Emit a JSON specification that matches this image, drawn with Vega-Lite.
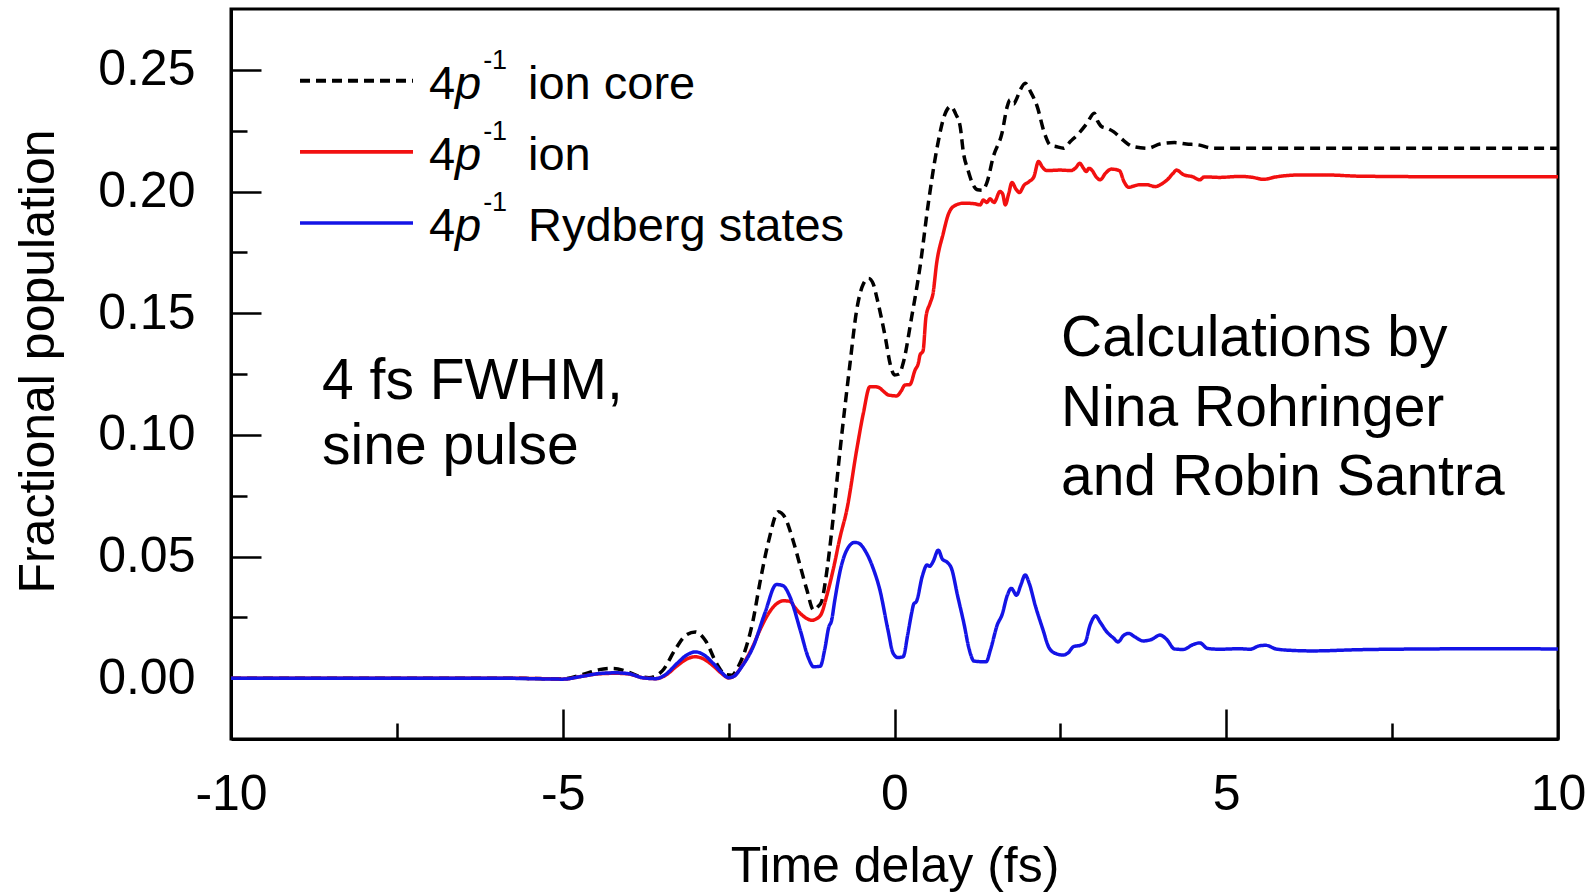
{
  "$schema": "https://vega.github.io/schema/vega-lite/v6.json",
  "autosize": {"type": "none"},
  "width": 1327,
  "height": 730,
  "padding": {"left": 231, "top": 9, "right": 34, "bottom": 153},
  "background": "white",
  "config": {
    "font": "Liberation Sans",
    "view": {"stroke": "black", "strokeWidth": 3},
    "axis": {
      "grid": false,
      "domainColor": "black",
      "domainWidth": 3,
      "tickColor": "black",
      "tickWidth": 2.5,
      "labelFont": "Liberation Sans",
      "labelFontSize": 50,
      "labelColor": "black",
      "titleFont": "Liberation Sans",
      "titleFontSize": 50,
      "titleFontWeight": "normal",
      "titleColor": "black"
    }
  },
  "datasets": {
    "curves": [
      {"t": -10, "v": 0, "s": "core"}, {"t": -8, "v": 0, "s": "core"}, {"t": -6, "v": 0, "s": "core"},
      {"t": -5.3, "v": -0.0002, "s": "core"}, {"t": -5.0, "v": -0.0003, "s": "core"}, {"t": -4.7, "v": 0.0015, "s": "core"},
      {"t": -4.45, "v": 0.0035, "s": "core"}, {"t": -4.24, "v": 0.004, "s": "core"}, {"t": -4.04, "v": 0.0028, "s": "core"},
      {"t": -3.85, "v": 0.0008, "s": "core"}, {"t": -3.7, "v": 0.0002, "s": "core"}, {"t": -3.5, "v": 0.003, "s": "core"},
      {"t": -3.3, "v": 0.012, "s": "core"}, {"t": -3.15, "v": 0.0175, "s": "core"}, {"t": -3.0, "v": 0.019, "s": "core"},
      {"t": -2.85, "v": 0.0155, "s": "core"}, {"t": -2.68, "v": 0.006, "s": "core"}, {"t": -2.55, "v": 0.0015, "s": "core"},
      {"t": -2.45, "v": 0.0012, "s": "core"}, {"t": -2.35, "v": 0.005, "s": "core"}, {"t": -2.25, "v": 0.0115, "s": "core"},
      {"t": -2.13, "v": 0.024, "s": "core"}, {"t": -2.03, "v": 0.039, "s": "core"}, {"t": -1.9, "v": 0.056, "s": "core"},
      {"t": -1.75, "v": 0.0684, "s": "core"}, {"t": -1.65, "v": 0.066, "s": "core"}, {"t": -1.53, "v": 0.0567, "s": "core"},
      {"t": -1.42, "v": 0.046, "s": "core"}, {"t": -1.32, "v": 0.0362, "s": "core"}, {"t": -1.22, "v": 0.028, "s": "core"},
      {"t": -1.15, "v": 0.0295, "s": "core"}, {"t": -1.1, "v": 0.0314, "s": "core"}, {"t": -1.03, "v": 0.042, "s": "core"},
      {"t": -0.95, "v": 0.0595, "s": "core"}, {"t": -0.82, "v": 0.0938, "s": "core"}, {"t": -0.67, "v": 0.1294, "s": "core"},
      {"t": -0.57, "v": 0.1513, "s": "core"}, {"t": -0.47, "v": 0.162, "s": "core"}, {"t": -0.39, "v": 0.1643, "s": "core"},
      {"t": -0.32, "v": 0.162, "s": "core"}, {"t": -0.27, "v": 0.1568, "s": "core"}, {"t": -0.14, "v": 0.1403, "s": "core"},
      {"t": -0.06, "v": 0.1285, "s": "core"}, {"t": 0.0, "v": 0.1246, "s": "core"}, {"t": 0.07, "v": 0.125, "s": "core"},
      {"t": 0.13, "v": 0.1294, "s": "core"}, {"t": 0.26, "v": 0.1486, "s": "core"}, {"t": 0.385, "v": 0.1691, "s": "core"},
      {"t": 0.51, "v": 0.1952, "s": "core"}, {"t": 0.635, "v": 0.217, "s": "core"}, {"t": 0.75, "v": 0.231, "s": "core"},
      {"t": 0.85, "v": 0.235, "s": "core"}, {"t": 0.92, "v": 0.232, "s": "core"}, {"t": 0.99, "v": 0.2267, "s": "core"},
      {"t": 1.04, "v": 0.2157, "s": "core"}, {"t": 1.106, "v": 0.209, "s": "core"}, {"t": 1.18, "v": 0.203, "s": "core"},
      {"t": 1.25, "v": 0.2007, "s": "core"}, {"t": 1.32, "v": 0.2005, "s": "core"}, {"t": 1.39, "v": 0.2034, "s": "core"},
      {"t": 1.49, "v": 0.2144, "s": "core"}, {"t": 1.62, "v": 0.224, "s": "core"}, {"t": 1.7, "v": 0.235, "s": "core"},
      {"t": 1.74, "v": 0.2377, "s": "core"}, {"t": 1.8, "v": 0.236, "s": "core"}, {"t": 1.83, "v": 0.2375, "s": "core"},
      {"t": 1.9, "v": 0.242, "s": "core"}, {"t": 1.97, "v": 0.2445, "s": "core"}, {"t": 2.05, "v": 0.241, "s": "core"},
      {"t": 2.15, "v": 0.235, "s": "core"}, {"t": 2.26, "v": 0.224, "s": "core"}, {"t": 2.35, "v": 0.219, "s": "core"},
      {"t": 2.43, "v": 0.2185, "s": "core"}, {"t": 2.55, "v": 0.2178, "s": "core"}, {"t": 2.65, "v": 0.2205, "s": "core"},
      {"t": 2.78, "v": 0.224, "s": "core"}, {"t": 2.9, "v": 0.228, "s": "core"}, {"t": 3.01, "v": 0.2322, "s": "core"},
      {"t": 3.06, "v": 0.229, "s": "core"}, {"t": 3.12, "v": 0.2267, "s": "core"}, {"t": 3.2, "v": 0.226, "s": "core"},
      {"t": 3.3, "v": 0.2246, "s": "core"}, {"t": 3.45, "v": 0.221, "s": "core"}, {"t": 3.59, "v": 0.2185, "s": "core"},
      {"t": 3.82, "v": 0.2178, "s": "core"}, {"t": 4.0, "v": 0.2195, "s": "core"}, {"t": 4.22, "v": 0.2201, "s": "core"},
      {"t": 4.4, "v": 0.2195, "s": "core"}, {"t": 4.57, "v": 0.2192, "s": "core"}, {"t": 4.8, "v": 0.2178, "s": "core"},
      {"t": 6, "v": 0.2178, "s": "core"}, {"t": 8, "v": 0.2178, "s": "core"}, {"t": 10, "v": 0.2178, "s": "core"},

      {"t": -10, "v": 0, "s": "ion"}, {"t": -8, "v": 0, "s": "ion"}, {"t": -6, "v": 0, "s": "ion"},
      {"t": -5.3, "v": -0.0002, "s": "ion"}, {"t": -5.0, "v": -0.0004, "s": "ion"}, {"t": -4.7, "v": 0.0008, "s": "ion"},
      {"t": -4.45, "v": 0.0018, "s": "ion"}, {"t": -4.2, "v": 0.002, "s": "ion"}, {"t": -4.0, "v": 0.0017, "s": "ion"},
      {"t": -3.8, "v": 0.0002, "s": "ion"}, {"t": -3.6, "v": -0.0002, "s": "ion"}, {"t": -3.45, "v": 0.0012, "s": "ion"},
      {"t": -3.28, "v": 0.005, "s": "ion"}, {"t": -3.12, "v": 0.008, "s": "ion"}, {"t": -3.0, "v": 0.0088, "s": "ion"},
      {"t": -2.87, "v": 0.0078, "s": "ion"}, {"t": -2.73, "v": 0.005, "s": "ion"}, {"t": -2.6, "v": 0.0018, "s": "ion"},
      {"t": -2.5, "v": 0.0001, "s": "ion"}, {"t": -2.42, "v": 0.0008, "s": "ion"}, {"t": -2.3, "v": 0.005, "s": "ion"},
      {"t": -2.13, "v": 0.0134, "s": "ion"}, {"t": -2.03, "v": 0.0197, "s": "ion"}, {"t": -1.9, "v": 0.0265, "s": "ion"},
      {"t": -1.78, "v": 0.0305, "s": "ion"}, {"t": -1.68, "v": 0.0318, "s": "ion"}, {"t": -1.58, "v": 0.0316, "s": "ion"},
      {"t": -1.5, "v": 0.029, "s": "ion"}, {"t": -1.42, "v": 0.0266, "s": "ion"}, {"t": -1.32, "v": 0.0245, "s": "ion"},
      {"t": -1.25, "v": 0.0238, "s": "ion"}, {"t": -1.17, "v": 0.0245, "s": "ion"}, {"t": -1.1, "v": 0.0266, "s": "ion"},
      {"t": -1.02, "v": 0.034, "s": "ion"}, {"t": -0.92, "v": 0.0451, "s": "ion"}, {"t": -0.82, "v": 0.058, "s": "ion"},
      {"t": -0.72, "v": 0.069, "s": "ion"}, {"t": -0.57, "v": 0.0938, "s": "ion"}, {"t": -0.47, "v": 0.1088, "s": "ion"},
      {"t": -0.37, "v": 0.1198, "s": "ion"}, {"t": -0.3, "v": 0.1198, "s": "ion"}, {"t": -0.24, "v": 0.1195, "s": "ion"},
      {"t": -0.15, "v": 0.1175, "s": "ion"}, {"t": -0.094, "v": 0.1164, "s": "ion"}, {"t": 0.033, "v": 0.116, "s": "ion"},
      {"t": 0.1, "v": 0.118, "s": "ion"}, {"t": 0.158, "v": 0.1205, "s": "ion"}, {"t": 0.23, "v": 0.1206, "s": "ion"},
      {"t": 0.31, "v": 0.1266, "s": "ion"}, {"t": 0.36, "v": 0.1295, "s": "ion"}, {"t": 0.385, "v": 0.1328, "s": "ion"},
      {"t": 0.43, "v": 0.1345, "s": "ion"}, {"t": 0.475, "v": 0.1486, "s": "ion"}, {"t": 0.535, "v": 0.154, "s": "ion"},
      {"t": 0.58, "v": 0.158, "s": "ion"}, {"t": 0.635, "v": 0.1705, "s": "ion"}, {"t": 0.735, "v": 0.1828, "s": "ion"},
      {"t": 0.81, "v": 0.1905, "s": "ion"}, {"t": 0.886, "v": 0.1938, "s": "ion"}, {"t": 1.04, "v": 0.1952, "s": "ion"},
      {"t": 1.2, "v": 0.195, "s": "ion"}, {"t": 1.29, "v": 0.1945, "s": "ion"}, {"t": 1.34, "v": 0.1965, "s": "ion"},
      {"t": 1.39, "v": 0.1955, "s": "ion"}, {"t": 1.44, "v": 0.197, "s": "ion"}, {"t": 1.5, "v": 0.1955, "s": "ion"},
      {"t": 1.59, "v": 0.2, "s": "ion"}, {"t": 1.63, "v": 0.199, "s": "ion"}, {"t": 1.67, "v": 0.1945, "s": "ion"},
      {"t": 1.72, "v": 0.199, "s": "ion"}, {"t": 1.77, "v": 0.2037, "s": "ion"}, {"t": 1.83, "v": 0.201, "s": "ion"},
      {"t": 1.885, "v": 0.1996, "s": "ion"}, {"t": 1.95, "v": 0.2025, "s": "ion"}, {"t": 2.03, "v": 0.2041, "s": "ion"},
      {"t": 2.1, "v": 0.206, "s": "ion"}, {"t": 2.17, "v": 0.2123, "s": "ion"}, {"t": 2.23, "v": 0.21, "s": "ion"},
      {"t": 2.29, "v": 0.2086, "s": "ion"}, {"t": 2.5, "v": 0.2088, "s": "ion"}, {"t": 2.66, "v": 0.2086, "s": "ion"},
      {"t": 2.74, "v": 0.21, "s": "ion"}, {"t": 2.79, "v": 0.2116, "s": "ion"}, {"t": 2.85, "v": 0.2095, "s": "ion"},
      {"t": 2.89, "v": 0.2082, "s": "ion"}, {"t": 2.93, "v": 0.2095, "s": "ion"}, {"t": 2.98, "v": 0.2086, "s": "ion"},
      {"t": 3.04, "v": 0.206, "s": "ion"}, {"t": 3.1, "v": 0.2048, "s": "ion"}, {"t": 3.18, "v": 0.2075, "s": "ion"},
      {"t": 3.27, "v": 0.2092, "s": "ion"}, {"t": 3.39, "v": 0.2086, "s": "ion"}, {"t": 3.46, "v": 0.204, "s": "ion"},
      {"t": 3.53, "v": 0.2017, "s": "ion"}, {"t": 3.6, "v": 0.2022, "s": "ion"}, {"t": 3.7, "v": 0.2028, "s": "ion"},
      {"t": 3.8, "v": 0.2028, "s": "ion"}, {"t": 3.93, "v": 0.202, "s": "ion"}, {"t": 4.02, "v": 0.203, "s": "ion"},
      {"t": 4.11, "v": 0.2048, "s": "ion"}, {"t": 4.2, "v": 0.2075, "s": "ion"}, {"t": 4.25, "v": 0.2088, "s": "ion"},
      {"t": 4.35, "v": 0.207, "s": "ion"}, {"t": 4.5, "v": 0.206, "s": "ion"}, {"t": 4.6, "v": 0.2048, "s": "ion"},
      {"t": 4.67, "v": 0.206, "s": "ion"}, {"t": 4.9, "v": 0.2058, "s": "ion"}, {"t": 5.2, "v": 0.2062, "s": "ion"},
      {"t": 5.4, "v": 0.2058, "s": "ion"}, {"t": 5.56, "v": 0.205, "s": "ion"}, {"t": 5.75, "v": 0.206, "s": "ion"},
      {"t": 6.11, "v": 0.2068, "s": "ion"}, {"t": 6.5, "v": 0.2068, "s": "ion"}, {"t": 7.0, "v": 0.2063, "s": "ion"},
      {"t": 8, "v": 0.2061, "s": "ion"}, {"t": 10, "v": 0.2061, "s": "ion"},

      {"t": -10, "v": 0, "s": "ryd"}, {"t": -8, "v": 0, "s": "ryd"}, {"t": -6, "v": 0, "s": "ryd"},
      {"t": -5.3, "v": -0.0003, "s": "ryd"}, {"t": -5.0, "v": -0.0004, "s": "ryd"}, {"t": -4.7, "v": 0.0008, "s": "ryd"},
      {"t": -4.45, "v": 0.0019, "s": "ryd"}, {"t": -4.2, "v": 0.0022, "s": "ryd"}, {"t": -4.0, "v": 0.0018, "s": "ryd"},
      {"t": -3.8, "v": 0.0002, "s": "ryd"}, {"t": -3.6, "v": -0.0002, "s": "ryd"}, {"t": -3.45, "v": 0.0015, "s": "ryd"},
      {"t": -3.28, "v": 0.006, "s": "ryd"}, {"t": -3.12, "v": 0.0097, "s": "ryd"}, {"t": -3.0, "v": 0.0108, "s": "ryd"},
      {"t": -2.87, "v": 0.0095, "s": "ryd"}, {"t": -2.73, "v": 0.006, "s": "ryd"}, {"t": -2.6, "v": 0.0022, "s": "ryd"},
      {"t": -2.5, "v": 0.0002, "s": "ryd"}, {"t": -2.42, "v": 0.0008, "s": "ryd"}, {"t": -2.3, "v": 0.0048, "s": "ryd"},
      {"t": -2.13, "v": 0.0129, "s": "ryd"}, {"t": -1.95, "v": 0.027, "s": "ryd"}, {"t": -1.78, "v": 0.0385, "s": "ryd"},
      {"t": -1.68, "v": 0.038, "s": "ryd"}, {"t": -1.575, "v": 0.0334, "s": "ryd"}, {"t": -1.42, "v": 0.0197, "s": "ryd"},
      {"t": -1.3, "v": 0.0085, "s": "ryd"}, {"t": -1.22, "v": 0.0047, "s": "ryd"}, {"t": -1.12, "v": 0.0049, "s": "ryd"},
      {"t": -1.05, "v": 0.012, "s": "ryd"}, {"t": -0.99, "v": 0.021, "s": "ryd"}, {"t": -0.95, "v": 0.0235, "s": "ryd"},
      {"t": -0.9, "v": 0.032, "s": "ryd"}, {"t": -0.82, "v": 0.044, "s": "ryd"}, {"t": -0.72, "v": 0.0526, "s": "ryd"},
      {"t": -0.6, "v": 0.0558, "s": "ryd"}, {"t": -0.55, "v": 0.0556, "s": "ryd"}, {"t": -0.42, "v": 0.0513, "s": "ryd"},
      {"t": -0.32, "v": 0.045, "s": "ryd"}, {"t": -0.22, "v": 0.0362, "s": "ryd"}, {"t": -0.1, "v": 0.02, "s": "ryd"},
      {"t": -0.02, "v": 0.0102, "s": "ryd"}, {"t": 0.05, "v": 0.0085, "s": "ryd"}, {"t": 0.13, "v": 0.0088, "s": "ryd"},
      {"t": 0.2, "v": 0.018, "s": "ryd"}, {"t": 0.26, "v": 0.027, "s": "ryd"}, {"t": 0.29, "v": 0.0305, "s": "ryd"},
      {"t": 0.33, "v": 0.0315, "s": "ryd"}, {"t": 0.42, "v": 0.042, "s": "ryd"}, {"t": 0.49, "v": 0.0465, "s": "ryd"},
      {"t": 0.53, "v": 0.046, "s": "ryd"}, {"t": 0.58, "v": 0.0478, "s": "ryd"}, {"t": 0.66, "v": 0.0526, "s": "ryd"},
      {"t": 0.72, "v": 0.049, "s": "ryd"}, {"t": 0.8, "v": 0.0475, "s": "ryd"}, {"t": 0.86, "v": 0.045, "s": "ryd"},
      {"t": 0.95, "v": 0.034, "s": "ryd"}, {"t": 1.05, "v": 0.022, "s": "ryd"}, {"t": 1.12, "v": 0.0125, "s": "ryd"},
      {"t": 1.2, "v": 0.007, "s": "ryd"}, {"t": 1.38, "v": 0.0067, "s": "ryd"}, {"t": 1.45, "v": 0.012, "s": "ryd"},
      {"t": 1.55, "v": 0.022, "s": "ryd"}, {"t": 1.62, "v": 0.026, "s": "ryd"}, {"t": 1.7, "v": 0.034, "s": "ryd"},
      {"t": 1.76, "v": 0.0369, "s": "ryd"}, {"t": 1.84, "v": 0.0341, "s": "ryd"}, {"t": 1.9, "v": 0.038, "s": "ryd"},
      {"t": 1.97, "v": 0.0424, "s": "ryd"}, {"t": 2.03, "v": 0.039, "s": "ryd"}, {"t": 2.12, "v": 0.03, "s": "ryd"},
      {"t": 2.24, "v": 0.0197, "s": "ryd"}, {"t": 2.32, "v": 0.013, "s": "ryd"}, {"t": 2.4, "v": 0.0105, "s": "ryd"},
      {"t": 2.54, "v": 0.0095, "s": "ryd"}, {"t": 2.62, "v": 0.0105, "s": "ryd"}, {"t": 2.7, "v": 0.013, "s": "ryd"},
      {"t": 2.8, "v": 0.0135, "s": "ryd"}, {"t": 2.87, "v": 0.0145, "s": "ryd"}, {"t": 2.95, "v": 0.022, "s": "ryd"},
      {"t": 3.03, "v": 0.0256, "s": "ryd"}, {"t": 3.1, "v": 0.023, "s": "ryd"}, {"t": 3.2, "v": 0.019, "s": "ryd"},
      {"t": 3.3, "v": 0.0165, "s": "ryd"}, {"t": 3.37, "v": 0.0149, "s": "ryd"}, {"t": 3.45, "v": 0.0175, "s": "ryd"},
      {"t": 3.53, "v": 0.0184, "s": "ryd"}, {"t": 3.62, "v": 0.017, "s": "ryd"}, {"t": 3.75, "v": 0.0153, "s": "ryd"},
      {"t": 3.88, "v": 0.016, "s": "ryd"}, {"t": 4.0, "v": 0.0177, "s": "ryd"}, {"t": 4.1, "v": 0.016, "s": "ryd"},
      {"t": 4.22, "v": 0.012, "s": "ryd"}, {"t": 4.35, "v": 0.0118, "s": "ryd"}, {"t": 4.5, "v": 0.0138, "s": "ryd"},
      {"t": 4.6, "v": 0.0145, "s": "ryd"}, {"t": 4.72, "v": 0.0122, "s": "ryd"}, {"t": 4.9, "v": 0.0119, "s": "ryd"},
      {"t": 5.2, "v": 0.0121, "s": "ryd"}, {"t": 5.36, "v": 0.0119, "s": "ryd"}, {"t": 5.5, "v": 0.0133, "s": "ryd"},
      {"t": 5.6, "v": 0.0135, "s": "ryd"}, {"t": 5.75, "v": 0.012, "s": "ryd"}, {"t": 6.0, "v": 0.0114, "s": "ryd"},
      {"t": 6.3, "v": 0.0112, "s": "ryd"}, {"t": 7.0, "v": 0.0117, "s": "ryd"}, {"t": 8.0, "v": 0.012, "s": "ryd"},
      {"t": 9.0, "v": 0.0121, "s": "ryd"}, {"t": 10, "v": 0.012, "s": "ryd"}
    ],
    "legendLines": [
      {"t": -8.96, "v": 0.2455, "s": "core"}, {"t": -7.257, "v": 0.2455, "s": "core"},
      {"t": -8.96, "v": 0.2163, "s": "ion"}, {"t": -7.257, "v": 0.2163, "s": "ion"},
      {"t": -8.96, "v": 0.1871, "s": "ryd"}, {"t": -7.257, "v": 0.1871, "s": "ryd"}
    ]
  },
  "layer": [
    {
      "data": {"name": "curves"},
      "mark": {"type": "line", "strokeWidth": 3.5, "interpolate": "monotone"},
      "encoding": {
        "x": {
          "field": "t", "type": "quantitative",
          "scale": {"domain": [-10, 10], "nice": false, "zero": false},
          "axis": {
            "title": "Time delay (fs)",
            "values": [-10, -7.5, -5, -2.5, 0, 2.5, 5, 7.5, 10],
            "labelExpr": "datum.value % 5 === 0 ? '' + datum.value : ''",
            "tickSize": {"condition": {"test": "datum.value % 5 === 0", "value": -30}, "value": -16},
            "labelPadding": 60,
            "labelFlush": false,
            "titlePadding": 22
          }
        },
        "y": {
          "field": "v", "type": "quantitative",
          "scale": {"domain": [-0.025, 0.275], "nice": false, "zero": false},
          "axis": {
            "title": "Fractional population",
            "values": [0, 0.025, 0.05, 0.075, 0.1, 0.125, 0.15, 0.175, 0.2, 0.225, 0.25],
            "format": ".2f",
            "labelExpr": "abs(datum.value * 20 - round(datum.value * 20)) < 0.001 ? datum.label : ''",
            "tickSize": {"condition": {"test": "abs(datum.value * 20 - round(datum.value * 20)) < 0.001", "value": -30}, "value": -16},
            "labelPadding": 66,
            "labelFlush": false,
            "titlePadding": 34,
            "titleY": 352
          }
        },
        "color": {
          "field": "s", "type": "nominal",
          "scale": {"domain": ["core", "ion", "ryd"], "range": ["#000000", "#f21010", "#1414e6"]},
          "legend": null
        },
        "strokeDash": {
          "field": "s", "type": "nominal",
          "scale": {"domain": ["core", "ion", "ryd"], "range": [[10, 6], [1, 0], [1, 0]]},
          "legend": null
        },
        "strokeWidth": {
          "field": "s", "type": "nominal",
          "scale": {"domain": ["core", "ion", "ryd"], "range": [4, 3.5, 3.5]},
          "legend": null
        }
      }
    },
    {
      "data": {"name": "legendLines"},
      "mark": {"type": "line"},
      "encoding": {
        "x": {"field": "t", "type": "quantitative"},
        "y": {"field": "v", "type": "quantitative"},
        "color": {"field": "s", "type": "nominal", "legend": null},
        "strokeDash": {"field": "s", "type": "nominal", "legend": null},
        "strokeWidth": {"field": "s", "type": "nominal", "legend": null},
        "detail": {"field": "s"}
      }
    },
    {
      "data": {"values": [
        {"t": -7.016, "v": 0.2381, "txt": "4"},
        {"t": -7.016, "v": 0.2089, "txt": "4"},
        {"t": -7.016, "v": 0.1797, "txt": "4"}
      ]},
      "mark": {"type": "text", "align": "left", "baseline": "alphabetic", "fontSize": 47, "font": "Liberation Sans", "color": "black"},
      "encoding": {
        "x": {"field": "t", "type": "quantitative"},
        "y": {"field": "v", "type": "quantitative"},
        "text": {"field": "txt"}
      }
    },
    {
      "data": {"values": [
        {"t": -6.624, "v": 0.2381, "txt": "p"},
        {"t": -6.624, "v": 0.2089, "txt": "p"},
        {"t": -6.624, "v": 0.1797, "txt": "p"}
      ]},
      "mark": {"type": "text", "align": "left", "baseline": "alphabetic", "fontSize": 47, "fontStyle": "italic", "font": "Liberation Sans", "color": "black"},
      "encoding": {
        "x": {"field": "t", "type": "quantitative"},
        "y": {"field": "v", "type": "quantitative"},
        "text": {"field": "txt"}
      }
    },
    {
      "data": {"values": [
        {"t": -6.2, "v": 0.2504, "txt": "-1"},
        {"t": -6.2, "v": 0.2212, "txt": "-1"},
        {"t": -6.2, "v": 0.192, "txt": "-1"}
      ]},
      "mark": {"type": "text", "align": "left", "baseline": "alphabetic", "fontSize": 27, "font": "Liberation Sans", "color": "black"},
      "encoding": {
        "x": {"field": "t", "type": "quantitative"},
        "y": {"field": "v", "type": "quantitative"},
        "text": {"field": "txt"}
      }
    },
    {
      "data": {"values": [
        {"t": -5.524, "v": 0.2381, "txt": "ion core"},
        {"t": -5.524, "v": 0.2089, "txt": "ion"},
        {"t": -5.524, "v": 0.1797, "txt": "Rydberg states"}
      ]},
      "mark": {"type": "text", "align": "left", "baseline": "alphabetic", "fontSize": 47, "font": "Liberation Sans", "color": "black"},
      "encoding": {
        "x": {"field": "t", "type": "quantitative"},
        "y": {"field": "v", "type": "quantitative"},
        "text": {"field": "txt"}
      }
    },
    {
      "data": {"values": [
        {"t": -8.628, "v": 0.1147, "txt": "4 fs FWHM,"},
        {"t": -8.628, "v": 0.0880, "txt": "sine pulse"},
        {"t": 2.509, "v": 0.1324, "txt": "Calculations by"},
        {"t": 2.509, "v": 0.1036, "txt": "Nina Rohringer"},
        {"t": 2.509, "v": 0.0752, "txt": "and Robin Santra"}
      ]},
      "mark": {"type": "text", "align": "left", "baseline": "alphabetic", "fontSize": 57, "font": "Liberation Sans", "color": "black"},
      "encoding": {
        "x": {"field": "t", "type": "quantitative"},
        "y": {"field": "v", "type": "quantitative"},
        "text": {"field": "txt"}
      }
    }
  ]
}
